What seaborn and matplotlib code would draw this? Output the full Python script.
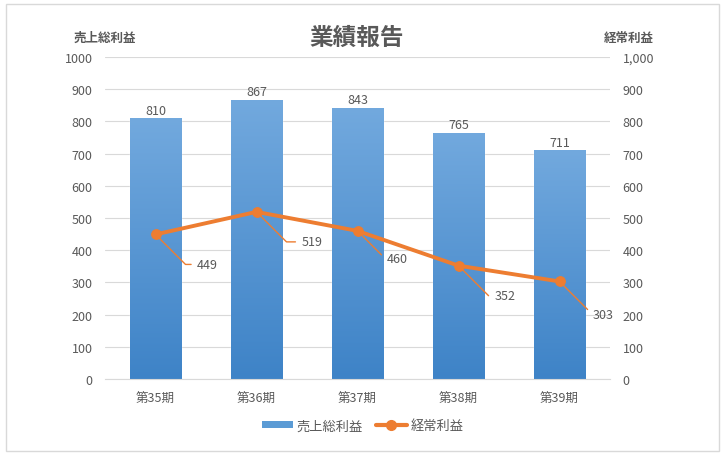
import numpy as np
import matplotlib
matplotlib.use("Agg")
import matplotlib.pyplot as plt
import seaborn as sns
from matplotlib.patches import Rectangle, Patch
from matplotlib.lines import Line2D
from matplotlib.ticker import FuncFormatter, MultipleLocator

periods = ["第35期", "第36期", "第37期", "第38期", "第39期"]
gross_profit = [810, 867, 843, 765, 711]
ordinary_profit = [449, 519, 460, 352, 303]

sns.set_style("white")
plt.rcParams["font.family"] = ["Noto Sans CJK JP", "DejaVu Sans"]

GRAY = "#595959"
BLUE = "#5B9BD5"
ORANGE = "#ED7D31"

fig = plt.figure(figsize=(7.26, 4.6), dpi=100)
ax = fig.add_axes([105 / 726, 80 / 460, 505 / 726, 322 / 460])

sns.barplot(x=periods, y=gross_profit, color=BLUE, width=0.505, ax=ax, zorder=2)

# vertical gradient on each bar
grad = np.linspace(0, 1, 256).reshape(-1, 1)
cmap = matplotlib.colors.LinearSegmentedColormap.from_list("g", ["#3E83C7", "#72A9DE"])
for p in ax.patches:
    x0, y0, w, h = p.get_x(), p.get_y(), p.get_width(), p.get_height()
    im = ax.imshow(grad, extent=[x0, x0 + w, y0, y0 + h], origin="lower",
                   cmap=cmap, aspect="auto", zorder=2.1)
    im.set_clip_path(p)

ax.set_xlim(-0.5, 4.5)
ax.set_ylim(0, 1000)
ax.yaxis.set_major_locator(MultipleLocator(100))
ax.grid(axis="y", color="#D9D9D9", linewidth=0.8, zorder=0)
ax.set_axisbelow(True)
for s in ["top", "left", "right"]:
    ax.spines[s].set_visible(False)
ax.spines["bottom"].set_color("#D9D9D9")
ax.tick_params(axis="both", length=0, colors=GRAY, labelsize=9)
ax.tick_params(axis="x", pad=9)
ax.tick_params(axis="y", pad=9)
ax.set_xlabel("")
ax.set_ylabel("")

for i, v in enumerate(gross_profit):
    ax.annotate(str(v), (i, v), xytext=(0, 1), textcoords="offset points",
                ha="center", va="bottom", fontsize=9, color=GRAY)

ax2 = ax.twinx()
sns.lineplot(x=periods, y=ordinary_profit, ax=ax2, color=ORANGE, linewidth=2.8,
             marker="o", markersize=7, markeredgecolor=ORANGE, zorder=5)
ax2.set_ylim(0, 1000)
ax2.yaxis.set_major_locator(MultipleLocator(100))
ax2.yaxis.set_major_formatter(FuncFormatter(lambda v, _: f"{int(v):,}"))
for s in ["top", "left", "right", "bottom"]:
    ax2.spines[s].set_visible(False)
ax2.tick_params(axis="y", length=0, colors=GRAY, labelsize=9, pad=9)
ax2.set_ylabel("")

label_offsets = [(30, -21.6), (32.4, -21.6), (21, -20), (26, -21.6), (24, -24)]
for i, (v, off) in enumerate(zip(ordinary_profit, label_offsets)):
    ax2.annotate(str(v), (i, v), xytext=off, textcoords="offset points",
                 ha="left", va="center", fontsize=9, color=GRAY,
                 arrowprops=dict(arrowstyle="-", color=ORANGE, lw=1,
                                 connectionstyle="angle,angleA=0,angleB=-45,rad=0",
                                 relpos=(0, 0.5), shrinkA=2, shrinkB=3))

fig.text(357 / 726, 0.917, "業績報告", ha="center", va="center", fontsize=17,
         fontweight="bold", color=GRAY)
fig.text(105 / 726, 0.917, "売上総利益", ha="center", va="center", fontsize=9,
         fontweight="bold", color=GRAY)
fig.text(629 / 726, 0.917, "経常利益", ha="center", va="center", fontsize=9,
         fontweight="bold", color=GRAY)

handles = [Patch(facecolor=BLUE, edgecolor="none"),
           Line2D([0], [0], color=ORANGE, lw=3, marker="o", markersize=7)]
leg = fig.legend(handles, ["売上総利益", "経常利益"], loc="center",
                 bbox_to_anchor=(0.5, 0.072), ncol=2, frameon=False,
                 fontsize=9.5, handlelength=2.3, handleheight=0.5, columnspacing=1.0,
                 handletextpad=0.3)
for t in leg.get_texts():
    t.set_color(GRAY)

fig.patches.append(Rectangle((6 / 726, 8 / 460), 713 / 726, 447 / 460,
                             transform=fig.transFigure, fill=False,
                             edgecolor="#D9D9D9", linewidth=1))

fig.savefig("out.png", dpi=100)
